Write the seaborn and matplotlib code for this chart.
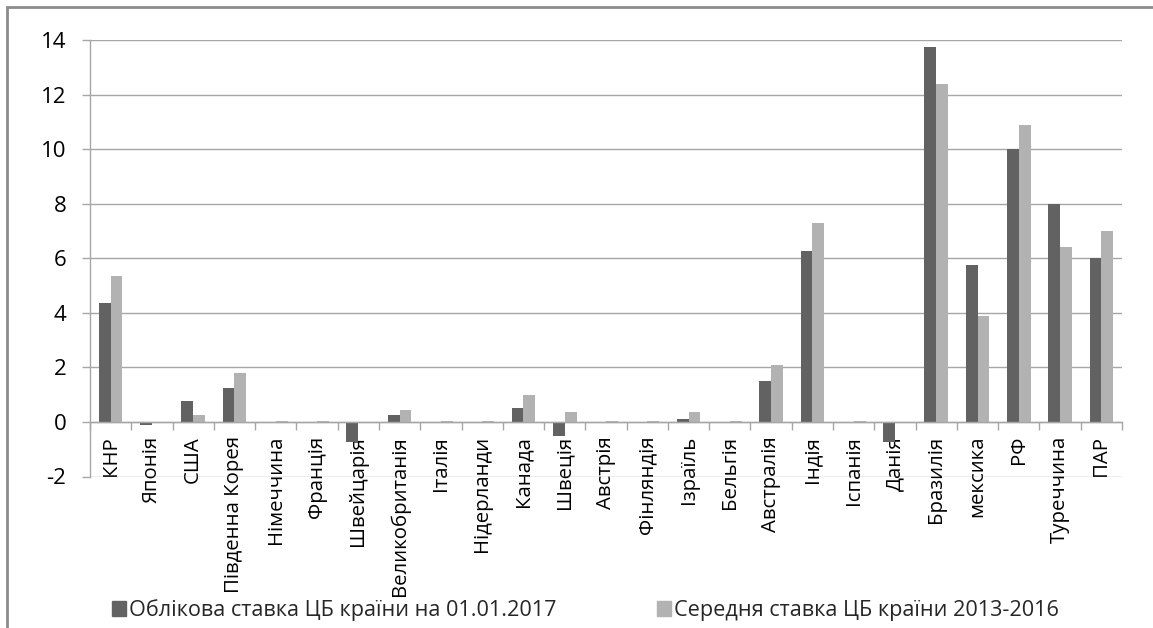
import matplotlib
matplotlib.use("Agg")
import matplotlib.pyplot as plt
from matplotlib.patches import Rectangle
from matplotlib.ticker import MultipleLocator, FixedLocator
import seaborn as sns
import pandas as pd

countries = ["КНР", "Японія", "США", "Південна Корея", "Німеччина", "Франція",
             "Швейцарія", "Великобританія", "Італія", "Нідерланди", "Канада",
             "Швеція", "Австрія", "Фінляндія", "Ізраїль", "Бельгія", "Австралія",
             "Індія", "Іспанія", "Данія", "Бразилія", "мексика", "РФ",
             "Туреччина", "ПАР"]
rate_2017 = [4.35, -0.1, 0.75, 1.25, 0.0, 0.0, -0.75, 0.25, 0.0, 0.0, 0.5,
             -0.5, 0.0, 0.0, 0.1, 0.0, 1.5, 6.25, 0.0, -0.75, 13.75, 5.75,
             10.0, 8.0, 6.0]
rate_avg = [5.35, 0.0, 0.25, 1.8, 0.05, 0.05, 0.0, 0.45, 0.05, 0.05, 1.0,
            0.35, 0.05, 0.05, 0.35, 0.05, 2.1, 7.3, 0.05, 0.0, 12.4, 3.9,
            10.9, 6.4, 7.0]
series = ["Облікова ставка ЦБ країни на 01.01.2017",
          "Середня ставка ЦБ країни 2013-2016"]
colors = ["#626262", "#b2b2b2"]

df = pd.DataFrame({
    "country": countries * 2,
    "value": rate_2017 + rate_avg,
    "series": [series[0]] * len(countries) + [series[1]] * len(countries),
})

sns.set_style("white")
plt.rcParams["font.family"] = ["Open Sans", "DejaVu Sans"]
plt.rcParams["axes.unicode_minus"] = False

fig = plt.figure(figsize=(11.53, 6.28), dpi=100)
ax = fig.add_axes([90 / 1153, 1 - 476.5 / 628, (1122 - 90) / 1153, (476.5 - 40) / 628])

sns.barplot(data=df, x="country", y="value", hue="series", order=countries,
            hue_order=series, palette=colors, width=0.574, saturation=1,
            linewidth=0, ax=ax, legend=True)

grid_c = "#a6a6a6"
ax.set_ylim(-2, 14)
ax.set_xlim(-0.5, len(countries) - 0.5)
ax.yaxis.set_major_locator(MultipleLocator(2))
ax.grid(axis="y", color=grid_c, linewidth=1)
ax.set_axisbelow(True)
ax.set_xlabel("")
ax.set_ylabel("")

for side in ["top", "right"]:
    ax.spines[side].set_visible(False)
for side in ["left", "bottom"]:
    ax.spines[side].set_color(grid_c)
    ax.spines[side].set_linewidth(1)
ax.spines["bottom"].set_position(("data", 0))

ax.tick_params(axis="y", direction="out", length=6, width=1, color=grid_c,
               pad=11, labelsize=16, labelcolor="black", left=True)
ax.xaxis.set_minor_locator(FixedLocator([i - 0.5 for i in range(len(countries) + 1)]))
ax.tick_params(axis="x", which="minor", direction="out", length=6, width=1,
               color=grid_c, bottom=True)
ax.tick_params(axis="x", which="major", length=0, pad=10, labelsize=14.7,
               labelcolor="black")
plt.setp(ax.get_xticklabels(), rotation=90, va="top", ha="center")

ax.get_legend().remove()
handles = [Rectangle((0, 0), 1, 1, color=c) for c in colors]
fig.legend(handles, series, loc="center left", bbox_to_anchor=(112 / 1153, 1 - 610 / 628),
           ncol=2, frameon=False, fontsize=15.6, handlelength=0.65, handleheight=0.65,
           handletextpad=0.15, columnspacing=4.6, borderpad=0, borderaxespad=0)

# outer chart frame
fig.patches.append(Rectangle((7 / 1153, -0.1), 1.2, 1 - 7 / 628 + 0.1,
                             transform=fig.transFigure, fill=False,
                             edgecolor="#8c8c8c", linewidth=2))

fig.savefig("out.png", dpi=100)
